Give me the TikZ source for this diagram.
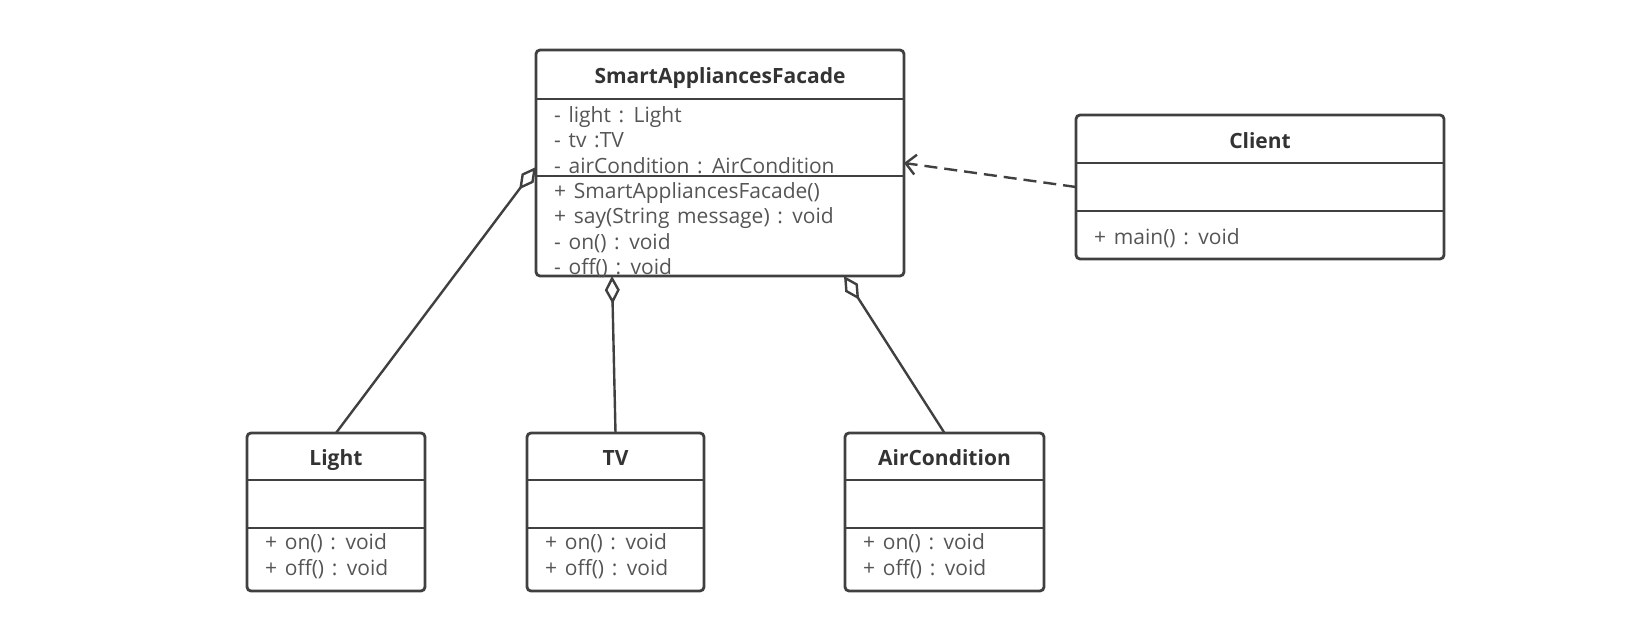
\documentclass[tikz,border=0pt]{standalone}
\usepackage{fontspec}
\setmainfont{Open Sans}[WordSpace=1.4]
\usetikzlibrary{arrows.meta}
\definecolor{umlline}{RGB}{64,64,64}
\definecolor{umltext}{RGB}{85,85,85}
\definecolor{umlhead}{RGB}{51,51,51}

\begin{document}
\begin{tikzpicture}[x=1pt, y=-1pt,
  box/.style={draw=umlline, line width=2.8pt, rounded corners=4pt, inner sep=0pt, outer sep=0pt},
  head/.style={font=\fontsize{21}{25}\selectfont\bfseries, text=umlhead, anchor=base, inner sep=0pt},
  member/.style={font=\fontsize{21}{25}\selectfont, text=umltext, anchor=base west, inner sep=0pt},
  sep/.style={draw=umlline, line width=2.8pt},
  agg/.style={draw=umlline, line width=2.4pt, -{Diamond[open, length=28pt, width=15pt]}},
  dep/.style={draw=umlline, line width=2.4pt, dash pattern=on 13pt off 7pt, -{Straight Barb[length=10pt, width=20pt]}}]

\useasboundingbox (0,0) rectangle (1635,632);

% facade
\node[box, minimum width=368pt, minimum height=226pt] (facade) at (720,163) {};
\draw[sep] ([yshift=-49pt]facade.north west) -- ([yshift=-49pt]facade.north east);
\draw[sep] ([yshift=-126pt]facade.north west) -- ([yshift=-126pt]facade.north east);
\node[head] (facade-h) at (720,83) {SmartAppliancesFacade};
\foreach \txt [count=\i] in {- light : Light, - tv :TV, - airCondition : AirCondition}
  \node[member] (facade-a\i) at (554,96.5+25.5*\i) {\txt};
\foreach \txt [count=\i] in {+ SmartAppliancesFacade(), + say(String message) : void, - on() : void, - off() : void}
  \node[member] (facade-m\i) at (554,172.5+25.5*\i) {\txt};

% client
\node[box, minimum width=368pt, minimum height=144pt] (client) at (1260,187) {};
\draw[sep] ([yshift=-48pt]client.north west) -- ([yshift=-48pt]client.north east);
\draw[sep] ([yshift=-96pt]client.north west) -- ([yshift=-96pt]client.north east);
\node[head] (client-h) at (1260,148) {Client};
\node[member] (client-m1) at (1094,244) {+ main() : void};

% appliances
\foreach \n/\cx/\w/\lab in {light/336/178/Light, tv/615.5/177/TV, air/944.5/199/AirCondition} {
  \node[box, minimum width=\w pt, minimum height=158pt] (\n) at (\cx,512) {};
  \draw[sep] ([yshift=-47pt]\n.north west) -- ([yshift=-47pt]\n.north east);
  \draw[sep] ([yshift=-95pt]\n.north west) -- ([yshift=-95pt]\n.north east);
  \node[head] (\n-h) at ([yshift=-32pt]\n.north) {\lab};
  \node[member] (\n-on) at ([xshift=18pt, yshift=-116pt]\n.north west) {+ on() : void};
  \node[member] (\n-off) at ([xshift=18pt, yshift=-142pt]\n.north west) {+ off() : void};
}

\coordinate (fa-l) at ([yshift=-4pt]facade.west);
\coordinate (fa-t) at ([xshift=76pt]facade.south west);
\coordinate (fa-a) at ([xshift=308pt]facade.south west);

\foreach \i/\j in {light/fa-l, tv/fa-t, air/fa-a}
  \draw[agg] (\i.north) -- (\j);
\draw[dep] (client.west) -- (facade.east);

\end{tikzpicture}
\end{document}
